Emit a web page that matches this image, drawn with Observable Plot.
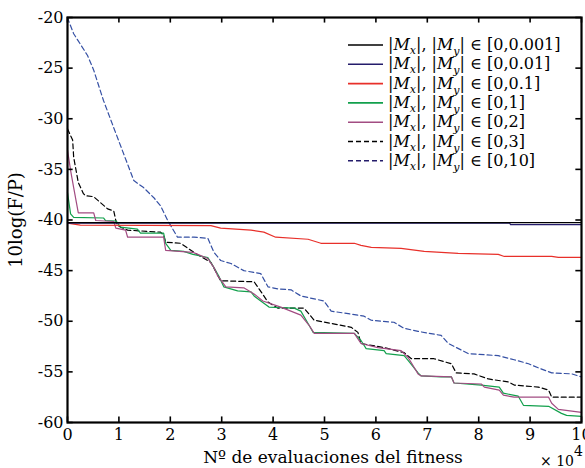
<!DOCTYPE html>
<html><head><meta charset="utf-8">
<script src="https://cdn.jsdelivr.net/npm/d3@7"></script>
<script src="https://cdn.jsdelivr.net/npm/@observablehq/plot@0.6"></script>
<style>body{margin:0;background:#fff}</style>
</head><body><div id="chart"></div>
<script>
const xTicks = [0,1,2,3,4,5,6,7,8,9,10];
const yTicks = [-20,-25,-30,-35,-40,-45,-50,-55,-60];
const legendLabels = ["0,0.001","0,0.01","0,0.1","0,1","0,2","0,3","0,10"];

const sBlack = [[0,-40.25],[10,-40.25]];
const sNavy = [[0,-40.3],[8.6,-40.3],[8.62,-40.45],[10,-40.45]];
const sRed = [[0,-40.3],[0.25,-40.5],[2.79,-40.55],[2.98,-40.8],[3.57,-41.0],[3.82,-41.2],[4.05,-41.7],[4.68,-41.9],[4.93,-42.3],[5.58,-42.3],[5.71,-42.5],[5.91,-42.7],[6.49,-42.8],[6.94,-43.1],[7.6,-43.3],[8.38,-43.4],[8.5,-43.6],[9.42,-43.6],[9.55,-43.7],[10,-43.7]];
const sGreen = [[0,-37.3],[0.06,-39.4],[0.12,-39.75],[0.70,-39.8],[0.74,-40.05],[0.94,-40.1],[0.97,-40.25],[1.03,-40.7],[1.36,-40.9],[1.42,-41.3],[1.87,-41.3],[1.91,-42.3],[2.01,-43.0],[2.26,-43.1],[2.44,-43.4],[2.73,-43.7],[2.85,-44.7],[2.94,-45.5],[3.04,-46.6],[3.31,-47.0],[3.57,-47.1],[3.63,-47.5],[3.76,-48.0],[3.92,-48.6],[4.41,-48.7],[4.54,-49.0],[4.70,-50.4],[4.78,-51.1],[5.58,-51.2],[5.71,-51.9],[5.81,-52.7],[6.16,-52.9],[6.20,-53.2],[6.55,-53.4],[6.63,-53.9],[6.82,-55.1],[6.88,-55.4],[7.27,-55.5],[7.47,-55.5],[7.52,-56.1],[8.05,-56.3],[8.40,-56.5],[8.48,-57.1],[8.77,-57.4],[8.87,-58.3],[9.36,-58.4],[9.61,-59.1],[9.71,-59.3],[10,-59.4]];
const sMagenta = [[0,-33.1],[0.06,-35.1],[0.12,-36.8],[0.21,-39.3],[0.51,-39.3],[0.55,-40.05],[0.90,-40.15],[0.94,-40.8],[1.13,-41.0],[1.17,-41.7],[1.87,-41.7],[1.91,-43.0],[2.44,-43.2],[2.73,-43.8],[2.85,-44.7],[2.92,-45.5],[3.08,-46.6],[3.43,-46.7],[3.63,-47.3],[3.80,-48.0],[4.15,-48.6],[4.54,-49.4],[4.70,-50.4],[4.80,-51.2],[5.58,-51.2],[5.71,-52.2],[6.04,-52.6],[6.49,-52.9],[6.63,-53.6],[6.82,-55.2],[6.88,-55.4],[7.47,-55.5],[7.52,-56.1],[8.05,-56.2],[8.11,-56.5],[8.40,-56.8],[8.48,-57.3],[8.69,-57.5],[9.36,-57.5],[9.42,-58.1],[9.55,-58.7],[10,-59.0]];
const sBlackDash = [[0,-31.0],[0.1,-32.1],[0.12,-33.8],[0.21,-36.3],[0.31,-37.4],[0.35,-37.6],[0.51,-37.7],[0.78,-38.9],[0.90,-39.1],[0.94,-40.05],[0.97,-40.5],[1.03,-40.7],[1.17,-41.0],[1.81,-41.2],[1.87,-41.5],[1.91,-42.2],[2.20,-42.3],[2.46,-43.2],[2.79,-44.2],[2.98,-46.0],[3.63,-46.1],[3.70,-46.6],[3.90,-48.1],[4.09,-48.7],[4.60,-48.7],[4.80,-49.9],[5.52,-50.6],[5.65,-51.1],[5.71,-52.2],[6.16,-52.6],[6.55,-53.1],[6.69,-53.7],[7.13,-53.7],[7.47,-54.2],[7.56,-55.1],[7.91,-55.2],[8.19,-55.7],[8.58,-56.0],[8.69,-56.3],[9.16,-56.5],[9.36,-56.8],[9.42,-57.5],[10,-57.5]];
const sBlueDash = [[0,-20],[0.02,-20.3],[0.12,-21.6],[0.39,-23.75],[0.51,-25.2],[0.70,-28.2],[0.99,-32.1],[1.29,-36.1],[1.48,-36.8],[1.68,-37.8],[1.81,-38.6],[1.95,-40.05],[2.14,-41.7],[2.46,-41.7],[2.73,-41.8],[2.85,-43.2],[2.98,-44.0],[3.18,-44.3],[3.43,-45.0],[3.76,-45.3],[3.90,-46.6],[4.09,-46.8],[4.35,-46.9],[4.54,-47.5],[4.99,-48.0],[5.13,-49.0],[5.52,-49.3],[5.77,-49.5],[5.91,-49.9],[6.35,-50.1],[6.55,-50.7],[6.82,-51.0],[7.27,-51.4],[7.41,-52.2],[7.80,-53.2],[8.38,-53.4],[8.69,-53.8],[8.97,-54.2],[9.16,-54.6],[9.42,-55.1],[9.81,-55.2],[10,-55.5]];

const series = [
  {data: sBlack, color: "#000000", dash: null},
  {data: sNavy, color: "#241c6b", dash: null},
  {data: sRed, color: "#e8302a", dash: null},
  {data: sGreen, color: "#12a04c", dash: null},
  {data: sMagenta, color: "#a24c82", dash: null},
  {data: sBlackDash, color: "#000000", dash: "5,3"},
  {data: sBlueDash, color: "#3550a4", dash: "5,3"}
];
const legendColors = ["#000000","#241c6b","#e8302a","#12a04c","#a24c82","#000000","#241c6b"];

const FONT = "DejaVu Serif";
const drawOrder = [6,5,3,4,2,1,0];
const marks = [];
for (const i of drawOrder) {
  const s = series[i];
  marks.push(Plot.line(s.data, {x: d => d[0], y: d => d[1], stroke: s.color, strokeWidth: 1.2, strokeDasharray: s.dash}));
}
// inward ticks on four sides
marks.push(Plot.ruleX(xTicks, {x: d => d, y1: -60, y2: -59.45, stroke: "#000", strokeWidth: 1.6}));
marks.push(Plot.ruleX(xTicks, {x: d => d, y1: -20, y2: -20.55, stroke: "#000", strokeWidth: 1.6}));
marks.push(Plot.ruleY(yTicks, {y: d => d, x1: 0, x2: 0.11, stroke: "#000", strokeWidth: 1.6}));
marks.push(Plot.ruleY(yTicks, {y: d => d, x1: 10, x2: 9.89, stroke: "#000", strokeWidth: 1.6}));
marks.push(Plot.frame({stroke: "#000", strokeWidth: 2.2}));
marks.push(Plot.axisX(xTicks, {tickSize: 0, tickPadding: 6, fontSize: 16, tickFormat: d => String(d), label: null}));
marks.push(Plot.axisY(yTicks, {tickSize: 0, tickPadding: 4, fontSize: 16, tickFormat: d => String(d), label: null}));

const svg = Plot.plot({
  width: 585, height: 468,
  marginLeft: 67, marginRight: 4, marginTop: 17, marginBottom: 46,
  style: {fontFamily: FONT, color: "#000", background: "#fff"},
  x: {domain: [0, 10]},
  y: {domain: [-60, -20]},
  marks
});
document.getElementById("chart").appendChild(svg);

const g = d3.select(svg).append("g").attr("font-family", FONT).attr("font-size", 15).attr("fill", "#000").attr("text-anchor", "start");
// axis titles
g.append("text").attr("x", 333).attr("y", 463).attr("text-anchor", "middle").attr("font-size", 17).text("Nº de evaluaciones del fitness");
g.append("text").attr("transform", "translate(22,220) rotate(-90)").attr("text-anchor", "middle").attr("font-size", 18).text("10log(F/P)");
const ex = g.append("text").attr("x", 540).attr("y", 466).attr("font-size", 14);
ex.append("tspan").text("× 10");
ex.append("tspan").attr("dy", -10).attr("font-size", 14).text("4");

// legend
const rowY0 = 45, rowDy = 19.3;
legendLabels.forEach((lab, i) => {
  const y = rowY0 + i * rowDy;
  const s = series[i];
  g.append("line").attr("x1", 348).attr("x2", 383).attr("y1", y).attr("y2", y)
    .attr("stroke", legendColors[i]).attr("stroke-width", 1.6)
    .attr("stroke-dasharray", s.dash);
  const t = g.append("text").attr("x", 388).attr("y", y + 5).attr("font-size", 16);
  t.append("tspan").text("|");
  t.append("tspan").attr("font-style", "italic").text("M");
  t.append("tspan").attr("font-size", 11).attr("dy", 4).attr("font-style", "italic").text("x");
  t.append("tspan").attr("dy", -4).text("|, |");
  t.append("tspan").attr("font-style", "italic").text("M");
  t.append("tspan").attr("font-size", 11).attr("dy", 5).attr("font-style", "italic").text("y");
  t.append("tspan").attr("dy", -5).text("| ∈ [" + lab + "]");
});
</script>
</body></html>
